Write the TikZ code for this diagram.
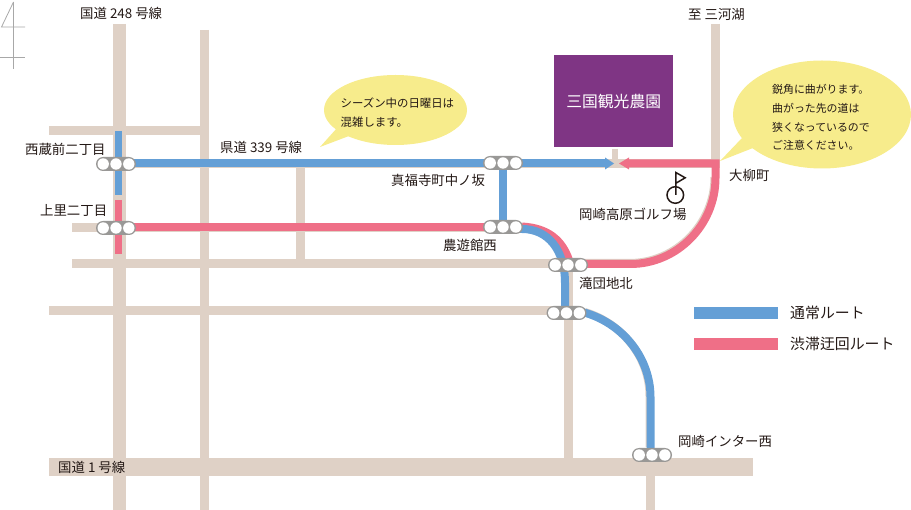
\documentclass[tikz,border=0pt]{standalone}
\usepackage{fontspec}
\setmainfont{Noto Sans CJK JP}
\usetikzlibrary{shapes.misc}
\definecolor{roadc}{HTML}{DFD1C6}
\definecolor{bluec}{HTML}{649FD6}
\definecolor{redc}{HTML}{EF6F87}
\definecolor{sigc}{HTML}{999896}
\definecolor{yelc}{HTML}{F7EC8C}
\definecolor{purc}{HTML}{7F3584}
\definecolor{txtc}{HTML}{231815}
\definecolor{compc}{HTML}{A8A8A8}
\tikzset{
  roadn/.style={draw=roadc,line width=9pt},
  roadw/.style={draw=roadc,line width=13pt},
  roadm/.style={draw=roadc,line width=18pt},
  bluer/.style={draw=bluec,line width=8pt},
  redr/.style={draw=redc,line width=8pt},
  sigbox/.style={rounded rectangle,fill=sigc,minimum width=40pt,minimum height=14pt,inner sep=0pt,outer sep=0pt},
  lamp/.style={circle,fill=white,minimum size=11.4pt,inner sep=0pt},
  lbl/.style={font=\fontsize{13.4}{13.4}\selectfont,text=txtc,inner sep=0pt},
  lblsm/.style={font=\fontsize{11.4}{11.4}\selectfont,text=txtc,inner sep=0pt,anchor=west},
  lblxs/.style={font=\fontsize{10.9}{10.9}\selectfont,text=txtc,inner sep=0pt,anchor=west},
  lbllg/.style={font=\fontsize{14.9}{14.9}\selectfont,text=txtc,inner sep=0pt,anchor=west},
  bubble/.style={fill=yelc,draw=none}
}
\newcommand{\trafficsig}[2]{%
  \node[sigbox] (#1) at (#2) {};
  \node[lamp] (#1a) at ([xshift=-12.8pt]#1.center) {};
  \node[lamp] (#1b) at (#1.center) {};
  \node[lamp] (#1c) at ([xshift=12.8pt]#1.center) {};
}
\begin{document}
\begin{tikzpicture}[x=1pt,y=-1pt]
\useasboundingbox (0,0) rectangle (911,510);
% compass
\draw[compc,line width=0.8pt] (13.5,2) -- (13.5,69);
\draw[compc,line width=0.8pt] (13.5,2) -- (1.5,27) -- (25,27);
\draw[compc,line width=0.8pt] (0,57) -- (24.5,57);
% roads
\draw[roadw] (119.5,24) -- (119.5,510);
\draw[roadn] (204.5,30) -- (204.5,510);
\draw[roadn] (49,130.5) -- (204,130.5);
\draw[roadn] (119,163.5) -- (720,163.5);
\draw[roadn] (72,227.5) -- (505,227.5);
\draw[roadn] (72,264) -- (570,264);
\draw[roadn] (49,311) -- (570,311);
\draw[roadn] (300.5,163) -- (300.5,264);
\draw[roadn] (568.5,262) -- (568.5,470);
\draw[roadm] (49,467) -- (753,467);
\draw[roadn] (650.5,450) -- (650.5,510);
\draw[roadn] (715,24) -- (715,165);
\draw[roadn,line width=6pt] (615,149) -- (615,165);
\draw[roadn,line width=8pt,yshift=1pt,xshift=-1pt] (715.5,178) .. controls (715.5,225) and (677,264) .. (630.5,264) -- (585,264);
\draw[roadn,line width=8pt,yshift=1pt,xshift=-1pt] (586,313) .. controls (625,325) and (650.5,360) .. (650.5,397) -- (650.5,448);
\draw[roadn,line width=8pt,xshift=3pt] (565,283) -- (565,313);
% routes
\draw[bluer,line width=7.5pt] (118.5,131) -- (118.5,195);
\draw[redr,line width=7.5pt] (118.5,200) -- (118.5,254);
\draw[bluer] (130,163.5) -- (606,163.5);
\fill[bluec] (605,157.5) -- (614,163.5) -- (605,169.5) -- cycle;
\draw[redr] (130,227.5) -- (505,227.5);
\draw[redr] (522,226.5) .. controls (548,228) and (562,240) .. (569,260);
\draw[redr,line join=miter] (628,163.5) -- (715.5,163.5) -- (715.5,178) .. controls (715.5,225) and (677,264) .. (630.5,264) -- (580,264);
\fill[redc] (629,157.5) -- (619,163.5) -- (629,169.5) -- cycle;
\draw[bluer] (502.5,163) -- (502.5,227);
\draw[bluer] (505,229) -- (522,229) .. controls (548,229) and (565,250) .. (565,283) -- (565,313);
\draw[bluer] (580,311.5) -- (586,313) .. controls (625,325) and (650.5,360) .. (650.5,397) -- (650.5,450);
% signals
\trafficsig{sa}{116,164}
\trafficsig{sb}{116,228}
\trafficsig{sc}{503,163}
\trafficsig{sd}{503,227}
\trafficsig{se}{568,265}
\trafficsig{sf}{566.5,313}
\trafficsig{sg}{652,455}
% building
\node[fill=purc,minimum width=119pt,minimum height=92pt,inner sep=0pt,anchor=north west,text=white,font=\fontsize{15.8}{15.8}\selectfont] (farm) at (554,55) {三国観光農園};
% flag
\draw[txtc,line width=1.5pt] (675.3,195) circle (8.3);
\draw[txtc,line width=1.5pt,line join=miter] (675.8,195) -- (675.8,172.5) -- (685.2,177.8) -- (675.8,183.3);
% bubbles
\fill[bubble] (395.5,110) ellipse (71.5 and 35);
\fill[bubble] (337,128) -- (320,147) -- (349,136) -- cycle;
\fill[bubble] (822,114.5) ellipse (89 and 54);
\fill[bubble] (742,138) -- (720,161) -- (753,148) -- cycle;
\node[lblsm] (bt1) at (340.5,103) {シーズン中の日曜日は};
\node[lblsm] (bt2) at (340.5,122) {混雑します。};
\node[lblxs] (ct1) at (772,89) {鋭角に曲がります。};
\node[lblxs] (ct2) at (772,108) {曲がった先の道は};
\node[lblxs] (ct3) at (772,127) {狭くなっているので};
\node[lblxs] (ct4) at (772,145) {ご注意ください。};
% labels
\node[lbl,anchor=west] (l1) at (80,13) {国道 248 号線};
\node[lbl,anchor=west] (l2) at (688,15) {至 三河湖};
\node[lbl,anchor=west] (l3) at (220,147) {県道 339 号線};
\node[lbl,anchor=west] (l4) at (25,149) {西蔵前二丁目};
\node[lbl,anchor=west] (l5) at (40,210) {上里二丁目};
\node[lbl,anchor=west] (l6) at (391,180) {真福寺町中ノ坂};
\node[lbl,anchor=west] (l7) at (443,245) {農遊館西};
\node[lbl,anchor=west] (l8) at (579,283) {滝団地北};
\node[lbl,anchor=west] (l9) at (579,214) {岡崎高原ゴルフ場};
\node[lbl,anchor=west] (l10) at (729,175) {大柳町};
\node[lbl,anchor=west] (l11) at (678,441) {岡崎インター西};
\node[lbl,anchor=west] (l12) at (58,467) {国道 1 号線};
% legend
\fill[bluec] (694,307) rectangle (778,319);
\fill[redc] (694,338) rectangle (778,350);
\node[lbllg] (k1) at (790,313) {通常ルート};
\node[lbllg] (k2) at (790,344) {渋滞迂回ルート};
\end{tikzpicture}
\end{document}
